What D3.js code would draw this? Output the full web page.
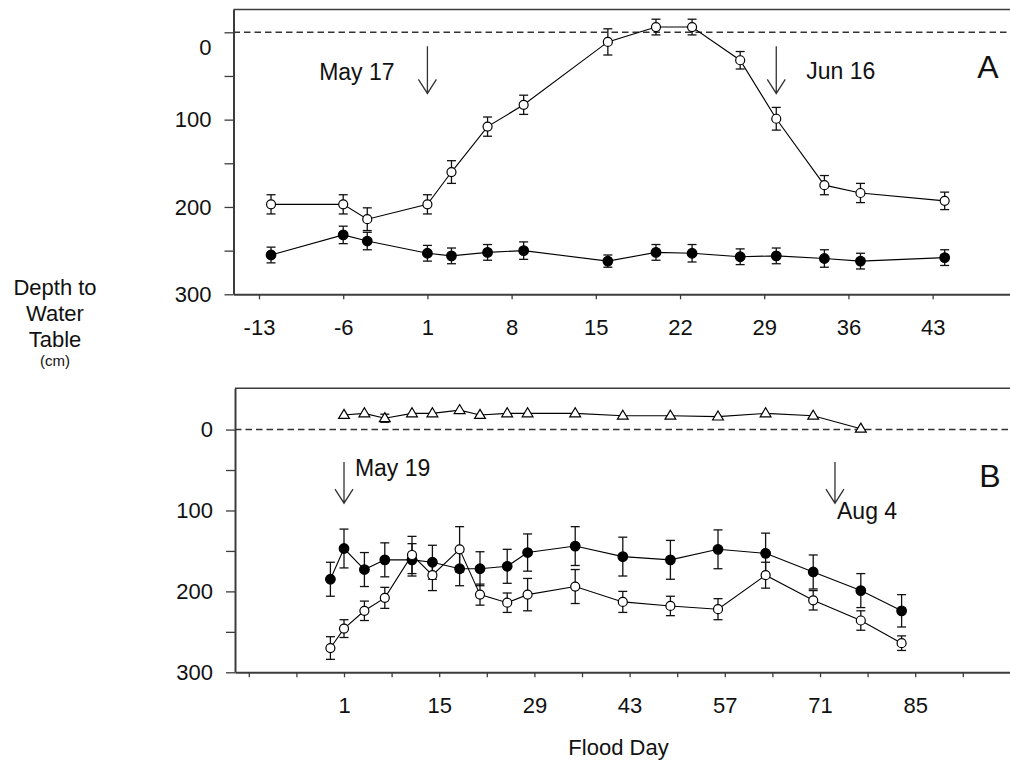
<!DOCTYPE html>
<html>
<head>
<meta charset="utf-8">
<script src="https://cdn.jsdelivr.net/npm/d3@7/dist/d3.min.js"></script>
<style>
  body { margin: 0; background: #fff; }
  svg { display: block; }
  text { font-family: "Liberation Sans", Arial, Helvetica, sans-serif; fill: #111; }
</style>
</head>
<body>
<svg id="chart" width="1010" height="767"></svg>
<script>
// ---------- Tick definitions ----------
const xTicksA = [-13, -6, 1, 8, 15, 22, 29, 36, 43];
const xTickLabelsA = ["-13", "-6", "1", "8", "15", "22", "29", "36", "43"];
const xTicksB = [-13, -6, 1, 8, 15, 22, 29, 36, 43, 50, 57, 64, 71, 78, 85, 92];
const xTickLabelsB = ["", "", "1", "", "15", "", "29", "", "43", "", "57", "", "71", "", "85", ""];
const yTicks = [0, 50, 100, 150, 200, 250, 300];
const yTickLabels = ["0", "", "100", "", "200", "", "300"];

// ---------- Panel A data ----------
const daysA = [-12, -6, -4, 1, 3, 6, 9, 16, 20, 23, 27, 30, 34, 37, 44];
const openA = [197, 197, 214, 197, 160, 108, 83, 11, -6, -6, 32, 99, 175, 184, 193];
const openErrA = [11, 11, 13, 11, 13, 11, 11, 15, 9, 9, 10, 13, 11, 11, 10];
const filledA = [255, 232, 239, 253, 256, 252, 250, 262, 252, 253, 257, 256, 259, 262, 258];
const filledErrA = [9, 10, 10, 9, 9, 9, 10, 7, 9, 10, 9, 9, 10, 9, 9];

// ---------- Panel B data ----------
const daysTriB = [1, 4, 7, 11, 14, 18, 21, 25, 28, 35, 42, 49, 56, 63, 70, 77];
const triB = [-18, -20, -14, -20, -20, -24, -18, -20, -20, -20, -17, -17, -16, -20, -17, -1];
const triErrB = [0, 0, 5, 0, 0, 0, 0, 0, 0, 0, 0, 0, 0, 0, 0, 0];
const daysB = [-1, 1, 4, 7, 11, 14, 18, 21, 25, 28, 35, 42, 49, 56, 63, 70, 77, 83];
const filledB = [185, 147, 173, 161, 161, 164, 172, 172, 169, 152, 144, 157, 161, 148, 153, 176, 199, 224];
const filledErrB = [21, 24, 21, 21, 20, 21, 21, 21, 21, 23, 24, 24, 24, 24, 25, 21, 21, 20];
const openB = [270, 246, 224, 208, 155, 180, 148, 204, 214, 204, 194, 213, 218, 222, 180, 211, 236, 264];
const openErrB = [14, 11, 12, 13, 23, 19, 28, 13, 12, 20, 21, 13, 12, 13, 16, 12, 12, 9];

// ---------- Annotations (day, depth) ----------
const arrowsA = [{ day: 1, from: 16, to: 70 }, { day: 30, from: 16, to: 70 }];
const labelsA = [{ text: "May 17", day: -8, depth: 55 }, { text: "Jun 16", day: 32.5, depth: 54 }];
const arrowsB = [{ day: 1, from: 40, to: 91 }, { day: 73.2, from: 40, to: 91 }];
const labelsB = [{ text: "May 19", day: 2.6, depth: 58 }, { text: "Aug 4", day: 73.5, depth: 110 }];

const svg = d3.select("#chart");
svg.append("rect").attr("width", 1010).attr("height", 767).attr("fill", "#fff");

const AX = "#3c3c3c";

function panel(cfg) {
  const g = svg.append("g");
  const x = cfg.x, y = cfg.y;
  const [x0, x1] = x.range();
  const yTop = y.range()[0];

  // top border
  g.append("line").attr("x1", x0).attr("x2", x1).attr("y1", yTop).attr("y2", yTop)
    .attr("stroke", AX).attr("stroke-width", 1.5);

  // zero dashed line
  g.append("line").attr("x1", x0).attr("x2", x1).attr("y1", y(0)).attr("y2", y(0))
    .attr("stroke", "#333").attr("stroke-width", 1.4).attr("stroke-dasharray", "6.5,4");

  // left axis
  const ya = g.append("g").attr("transform", `translate(${x0},0)`)
    .call(d3.axisLeft(y).tickValues(yTicks).tickSize(9).tickPadding(13).tickSizeOuter(0)
      .tickFormat((d, i) => yTickLabels[i]));
  ya.selectAll("text").style("font-size", "22px");
  if (cfg.zeroShift) ya.selectAll(".tick").filter(d => d === 0).select("text").attr("transform", `translate(0,${cfg.zeroShift})`);

  // bottom axis
  const xa = g.append("g").attr("transform", `translate(0,${y.range()[1]})`)
    .call(d3.axisBottom(x).tickValues(cfg.xTicks).tickSize(5).tickPadding(20).tickSizeOuter(0)
      .tickFormat((d, i) => cfg.xLabels[i]));
  xa.selectAll("text").style("font-size", "22px");

  [ya, xa].forEach(a => {
    a.select(".domain").attr("stroke", AX).attr("stroke-width", 2);
    a.selectAll(".tick line").attr("stroke", AX).attr("stroke-width", 1.3);
    a.selectAll("text").attr("fill", "#111").style("font-family", '"Liberation Sans", Arial, sans-serif');
  });

  const line = d3.line().x(d => x(d.d)).y(d => y(d.v));

  cfg.series.forEach(s => {
    const pts = s.days.map((d, i) => ({ d, v: s.vals[i], e: s.errs[i] }));
    g.append("path").datum(pts).attr("d", line).attr("fill", "none")
      .attr("stroke", "#000").attr("stroke-width", 1.1);
    s.pts = pts;
  });

  cfg.series.forEach(s => {
    const eb = g.append("g").attr("stroke", "#111").attr("stroke-width", 1.3);
    s.pts.filter(p => p.e > 0).forEach(p => {
      const cx = x(p.d);
      eb.append("line").attr("x1", cx).attr("x2", cx).attr("y1", y(p.v - p.e)).attr("y2", y(p.v + p.e));
      eb.append("line").attr("x1", cx - 4.5).attr("x2", cx + 4.5).attr("y1", y(p.v - p.e)).attr("y2", y(p.v - p.e));
      eb.append("line").attr("x1", cx - 4.5).attr("x2", cx + 4.5).attr("y1", y(p.v + p.e)).attr("y2", y(p.v + p.e));
    });
  });

  cfg.series.forEach(s => {
    const mg = g.append("g");
    s.pts.forEach(p => {
      const cx = x(p.d), cy = y(p.v);
      if (s.type === "tri") {
        mg.append("path").attr("d", `M${cx},${cy - 5.6}L${cx + 5.4},${cy + 3.4}L${cx - 5.4},${cy + 3.4}Z`)
          .attr("fill", "#fff").attr("stroke", "#000").attr("stroke-width", 1.2);
      } else {
        mg.append("circle").attr("cx", cx).attr("cy", cy).attr("r", s.type === "filled" ? 4.8 : 4.5)
          .attr("fill", s.type === "filled" ? "#000" : "#fff").attr("stroke", "#000").attr("stroke-width", 1.2);
      }
    });
  });

  // arrows
  cfg.arrows.forEach(a => {
    const ax = x(a.day), ya0 = y(a.from), ya1 = y(a.to);
    g.append("path").attr("d", `M${ax},${ya0}L${ax},${ya1}M${ax - 9},${ya1 - 14}L${ax},${ya1}L${ax + 9},${ya1 - 14}`)
      .attr("fill", "none").attr("stroke", "#333").attr("stroke-width", 1.3);
  });
  cfg.labels.forEach(l => {
    g.append("text").attr("x", x(l.day)).attr("y", y(l.depth)).style("font-size", "23px").text(l.text);
  });
  g.append("text").attr("x", x(cfg.letter.day)).attr("y", y(cfg.letter.depth))
    .style("font-size", "32px").text(cfg.letter.text);
}

const xA = d3.scaleLinear().domain([-15.12, 49.43]).range([233.5, 1010]);
const yA = d3.scaleLinear().domain([-26, 300]).range([9.6, 294.3]);
const xB = d3.scaleLinear().domain([-15.03, 98.94]).range([235, 1010]);
const yB = d3.scaleLinear().domain([-51, 300]).range([388.3, 672.3]);

panel({
  x: xA, y: yA, xTicks: xTicksA, xLabels: xTickLabelsA, zeroShift: 15,
  series: [
    { type: "open", days: daysA, vals: openA, errs: openErrA },
    { type: "filled", days: daysA, vals: filledA, errs: filledErrA }
  ],
  arrows: arrowsA, labels: labelsA, letter: { text: "A", day: 46.7, depth: 52.7 }
});

panel({
  x: xB, y: yB, xTicks: xTicksB, xLabels: xTickLabelsB,
  series: [
    { type: "tri", days: daysTriB, vals: triB, errs: triErrB },
    { type: "filled", days: daysB, vals: filledB, errs: filledErrB },
    { type: "open", days: daysB, vals: openB, errs: openErrB }
  ],
  arrows: arrowsB, labels: labelsB, letter: { text: "B", day: 94.4, depth: 70.5 }
});

// axis titles
const yl = svg.append("text").attr("text-anchor", "middle").style("font-size", "22px");
[["Depth to", 295], ["Water", 321], ["Table", 347]].forEach(([t, yy]) => {
  svg.append("text").attr("x", 55).attr("y", yy).attr("text-anchor", "middle").style("font-size", "22px").text(t);
});
svg.append("text").attr("x", 55).attr("y", 366).attr("text-anchor", "middle").style("font-size", "15px").text("(cm)");
svg.append("text").attr("x", 618.5).attr("y", 755).attr("text-anchor", "middle").style("font-size", "22px").text("Flood Day");
</script>
</body>
</html>
